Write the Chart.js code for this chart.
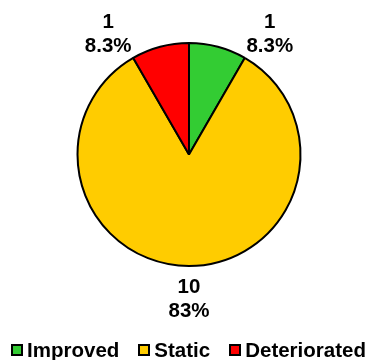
<!DOCTYPE html>
<html>
<head>
<meta charset="utf-8">
<script src="https://cdn.jsdelivr.net/npm/chart.js"></script>
<style>
  html, body { margin: 0; padding: 0; background: #fff; }
  #wrap { position: relative; width: 369px; height: 360px; }
  #legend {
    position: absolute; left: 4px; top: 338px; width: 369px; height: 24px;
    display: flex; justify-content: center; align-items: center;
    font: bold 20.5px "Liberation Sans", Arial, sans-serif; color: #000;
  }
  #legend .item { display: flex; align-items: center; margin: 0 9.5px; white-space: nowrap; }
  #legend .box { width: 8px; height: 8px; border: 2px solid #000; margin-right: 4px; }
</style>
</head>
<body>
<div id="wrap"><canvas id="myChart"></canvas><div id="legend"></div></div>
<script>
// data
const categories = ['Improved', 'Static', 'Deteriorated'];
const counts = [1, 10, 1];
const colours = ['#33CC33', '#FFCC00', '#FF0000'];

const FONT = '"Liberation Sans", Arial, sans-serif';

// labels outside the pie: count on one line, percent below
const outsideLabels = {
    id: 'outsideLabels',
    afterDatasetsDraw(chart) {
        const ctx = chart.ctx;
        const meta = chart.getDatasetMeta(0);
        const total = counts.reduce((a, b) => a + b, 0);
        ctx.save();
        ctx.font = 'bold 20.5px ' + FONT;
        ctx.fillStyle = '#000';
        ctx.textAlign = 'center';
        ctx.textBaseline = 'middle';
        meta.data.forEach((arc, i) => {
            const p = arc.getProps(['x', 'y', 'startAngle', 'endAngle', 'outerRadius'], true);
            // angle measured from the top, clockwise
            let a = (p.startAngle + p.endAngle) / 2 + Math.PI / 2;
            a = Math.atan2(Math.sin(a), Math.cos(a));
            const minA = 34 * Math.PI / 180;
            if (Math.abs(a) < minA) a = (a < 0 ? -1 : 1) * minA;
            const d = p.outerRadius + 33;
            const x = p.x + d * Math.sin(a);
            const y = p.y - d * Math.cos(a);
            const pct = counts[i] / total * 100;
            ctx.fillText(String(counts[i]), x, y - 12);
            ctx.fillText(pct.toPrecision(2) + '%', x, y + 12);
        });
        ctx.restore();
    }
};

const data = {
    labels: categories,
    datasets: [{
        data: counts,
        backgroundColor: colours,
        borderColor: '#000',
        borderWidth: 2
    }]
};

const config = {
    type: 'pie',
    data: data,
    options: {
        responsive: true,
        maintainAspectRatio: false,
        animation: false,
        layout: { padding: { top: 42, bottom: 93, left: 9, right: 0 } },
        plugins: {
            legend: { display: false },
            tooltip: { enabled: false }
        }
    },
    plugins: [outsideLabels]
};

const myChart = new Chart(document.getElementById('myChart'), config);

// legend built from the same arrays
const legend = document.getElementById('legend');
categories.forEach((name, i) => {
    const item = document.createElement('span');
    item.className = 'item';
    const box = document.createElement('span');
    box.className = 'box';
    box.style.background = colours[i];
    item.appendChild(box);
    item.appendChild(document.createTextNode(name));
    legend.appendChild(item);
});
</script>
</body>
</html>
